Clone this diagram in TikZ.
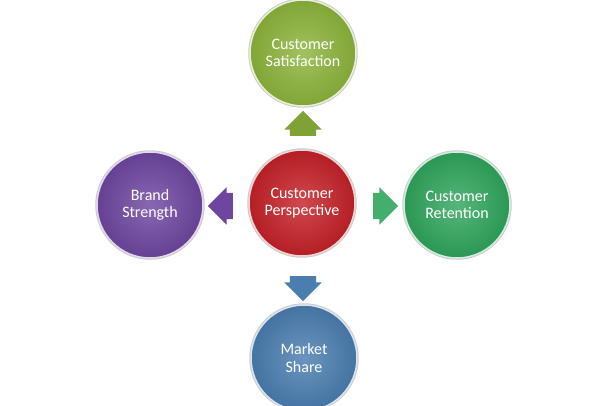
\documentclass[tikz,border=0pt]{standalone}
\usepackage{fontspec}
\setmainfont{Carlito}
\usetikzlibrary{shapes.arrows}

\definecolor{satgreen}{HTML}{8CB43A}
\definecolor{perspred}{HTML}{C42127}
\definecolor{retgreen}{HTML}{2FA55C}
\definecolor{brandpurple}{HTML}{6E46A0}
\definecolor{shareblue}{HTML}{4A7DB0}

\tikzset{
  ball/.style={
    circle,
    minimum size=106pt,
    inner sep=0pt,
    align=center,
    text=white,
    font=\fontsize{16}{17.5}\selectfont,
    inner color=#1!82!white,
    outer color=#1!92!black,
    draw=white!80!#1,
    line width=1.5pt,
    preaction={draw=black!20, line width=3.5pt}
  },
  blockarrow/.style={
    single arrow,
    single arrow head extend=5.5pt,
    minimum height=25pt,
    inner xsep=0pt,
    inner ysep=13pt,
    fill=#1
  },
  vertical/.style={inner xsep=13pt, inner ysep=0pt}
}

\begin{document}
\begin{tikzpicture}[x=1pt,y=-1pt]
  \useasboundingbox[fill=white] (0,0) rectangle (610,405);

  % circles
  \node[ball=perspred] (persp) at (302,203) {Customer\\Perspective};
  \node[ball=satgreen] (sat) at (303,53) {Customer\\Satisfaction};
  \node[ball=retgreen] (ret) at (457,205) {Customer\\Retention};
  \node[ball=brandpurple] (brand) at (150,205) {Brand\\Strength};
  \node[ball=shareblue] (share) at (304,358) {Market\\Share};

  % block arrows
  \node[blockarrow=satgreen!90!black, vertical, shape border rotate=90] (upa) at (303,130) {};
  \node[blockarrow=brandpurple, shape border rotate=180] (lefta) at (227,206) {};
  \node[blockarrow=retgreen!90!white, shape border rotate=0] (righta) at (379,206) {};
  \node[blockarrow=shareblue, vertical, shape border rotate=270] (downa) at (303,282) {};
\end{tikzpicture}
\end{document}
